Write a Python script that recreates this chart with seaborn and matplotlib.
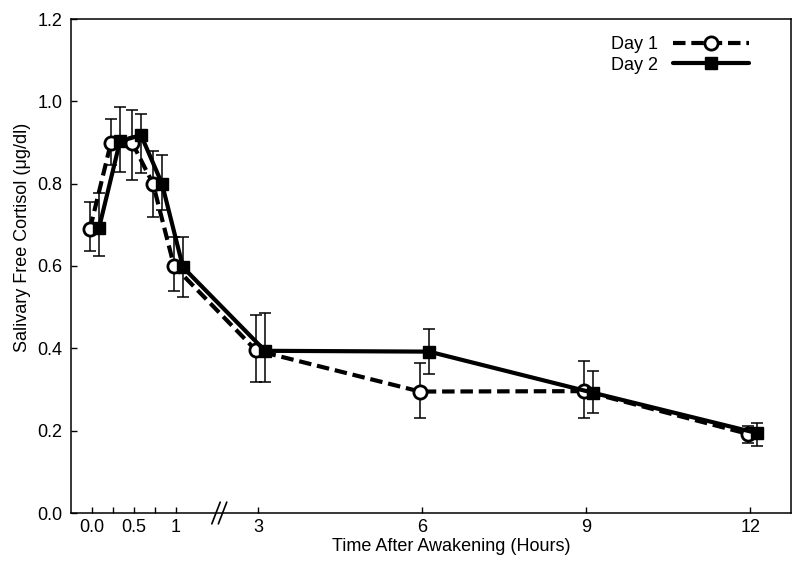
import numpy as np
import pandas as pd
import matplotlib
matplotlib.use("Agg")
import matplotlib.pyplot as plt
import seaborn as sns

# ---------------- data ----------------
hours = [0.0, 0.25, 0.5, 0.75, 1.0, 3.0, 6.0, 9.0, 12.0]
tick_hours = [0.0, 0.25, 0.5, 0.75, 1.0, 3.0, 6.0, 9.0, 12.0]
tick_labels = ["0.0", "", "0.5", "", "1", "3", "6", "9", "12"]

day1_mean = [0.690, 0.900, 0.900, 0.800, 0.600, 0.395, 0.295, 0.296, 0.192]
day1_upper = [0.755, 0.957, 0.979, 0.879, 0.670, 0.481, 0.364, 0.369, 0.211]
day1_lower = [0.636, 0.845, 0.809, 0.719, 0.540, 0.318, 0.231, 0.231, 0.170]

day2_mean = [0.692, 0.903, 0.918, 0.800, 0.597, 0.394, 0.392, 0.292, 0.194]
day2_upper = [0.777, 0.986, 0.969, 0.870, 0.670, 0.486, 0.447, 0.345, 0.219]
day2_lower = [0.624, 0.828, 0.826, 0.736, 0.525, 0.318, 0.338, 0.243, 0.163]

series_labels = ["Day 1", "Day 2"]


# broken x scale: 0-1 h stretched, 3-12 h compressed
def to_axis(h):
    h = np.asarray(h, dtype=float)
    early = h
    late = 1.976 + (h - 3.0) * 0.651
    return np.where(h <= 1.5, early, late)


sns.set_theme(style="ticks")
plt.rcParams["font.family"] = ["Liberation Sans", "DejaVu Sans"]
FS = 13
plt.rcParams["font.size"] = FS
plt.rcParams["text.color"] = "black"
plt.rcParams["axes.labelcolor"] = "black"

fig = plt.figure(figsize=(8.0, 5.63), dpi=100)
ax = fig.add_axes([71 / 800, 50 / 563, 720 / 800, 494 / 563])

offsets = {"Day 1": -0.024, "Day 2": 0.083}
styles = {
    "Day 1": dict(linestyle=(0, (3, 1.4)), marker="o", markersize=9.5,
                  markerfacecolor="white", markeredgecolor="black",
                  markeredgewidth=2.0),
    "Day 2": dict(linestyle="-", marker="s", markersize=9,
                  markerfacecolor="black", markeredgecolor="black",
                  markeredgewidth=1.0),
}
for name, mean, lo, hi in [(series_labels[0], day1_mean, day1_lower, day1_upper),
                           (series_labels[1], day2_mean, day2_lower, day2_upper)]:
    xpos = to_axis(hours) + offsets[name]
    df = pd.DataFrame({"x": xpos, "y": mean})
    m = np.asarray(mean)
    yerr = [m - np.asarray(lo), np.asarray(hi) - m]
    ax.errorbar(xpos, m, yerr=yerr, fmt="none", ecolor="black",
                elinewidth=1.1, capsize=4.5, capthick=1.1, zorder=1.5)
    sns.lineplot(data=df, x="x", y="y", ax=ax, color="black", linewidth=3.0,
                 label=name, sort=False, errorbar=None, zorder=3,
                 **styles[name])

ax.set_xlim(-0.25, 8.32)
ax.set_ylim(0, 1.2)
ax.set_xticks(to_axis(tick_hours))
ax.set_xticklabels(tick_labels)
ax.set_yticks(np.arange(0, 1.21, 0.2))
ax.set_yticklabels([f"{v:.1f}" for v in np.arange(0, 1.21, 0.2)])

for s in ax.spines.values():
    s.set_visible(True)
    s.set_linewidth(1.1)
    s.set_color("black")
ax.tick_params(direction="in", length=4.5, width=1.0, colors="black",
               labelcolor="black", labelsize=FS)
ax.tick_params(axis="y", pad=6)
ax.tick_params(axis="x", pad=4)

ax.set_xlabel("Time After Awakening (Hours)", fontsize=FS, color="black")
ax.set_ylabel("Salivary Free Cortisol (\u03bcg/dl)", fontsize=FS, color="black")
ax.xaxis.set_label_coords(0.528, -0.05)
ax.yaxis.set_label_coords(-0.055, 0.557)

# axis break marks "//"
bt = ax.get_xaxis_transform()
for xc in (1.476, 1.554):
    ax.plot([xc - 0.05, xc + 0.05], [-0.022, 0.022], transform=bt,
            color="black", lw=1.2, clip_on=False, zorder=5)

leg = ax.legend(loc="upper right", bbox_to_anchor=(749 / 800, 1 - 36 / 563),
                bbox_transform=fig.transFigure, frameon=False, markerfirst=False,
                handlelength=4.2, handletextpad=0.85, labelspacing=0.2,
                borderpad=0, borderaxespad=0, numpoints=1, fontsize=FS)
for t in leg.get_texts():
    t.set_color("black")

fig.savefig("out.png", dpi=100)
